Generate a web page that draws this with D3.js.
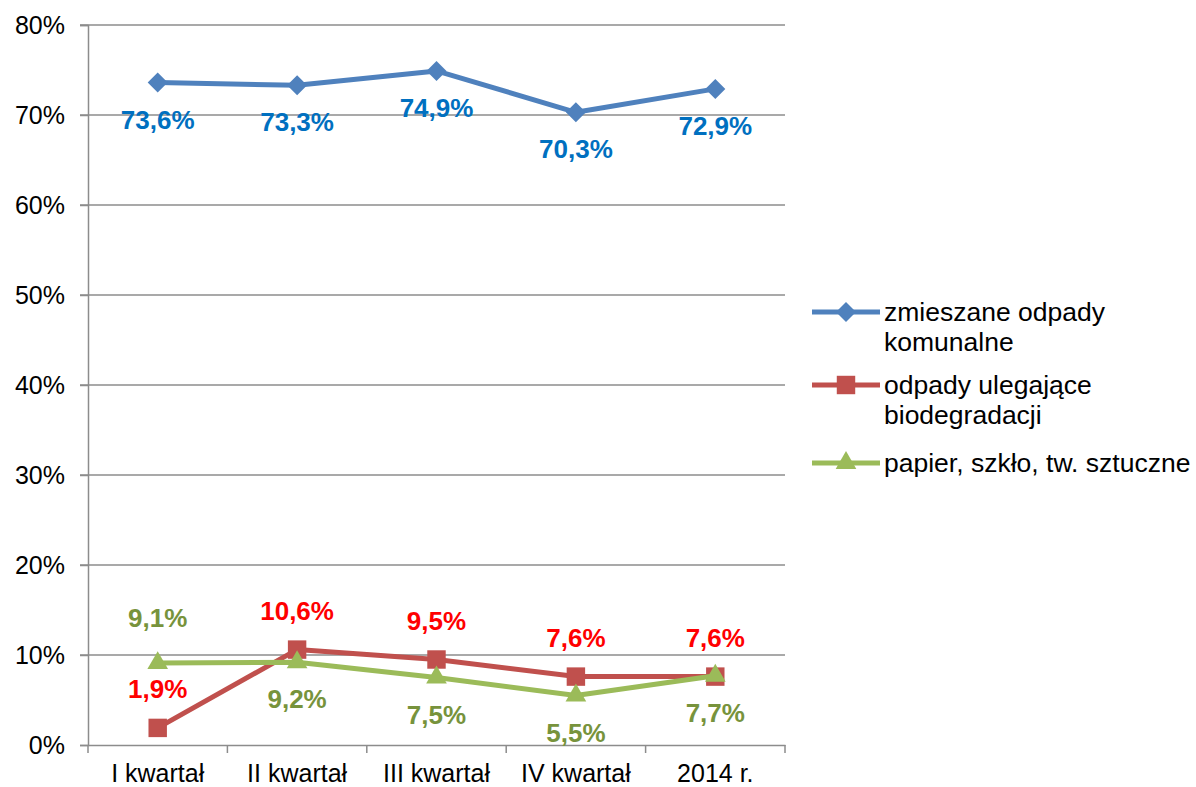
<!DOCTYPE html>
<html><head><meta charset="utf-8">
<script src="https://cdn.jsdelivr.net/npm/d3@7"></script>
<style>body{margin:0;background:#fff}text{font-family:"Liberation Sans",Arial,sans-serif}</style>
</head><body><svg id="c" width="1196" height="787"></svg>
<script>
const categories = ["I kwartał","II kwartał","III kwartał","IV kwartał","2014 r."];
const seriesNames = [["zmieszane odpady","komunalne"],["odpady ulegające","biodegradacji"],["papier, szkło, tw. sztuczne"]];
const mixed = [73.6,73.3,74.9,70.3,72.9];
const bio = [1.9,10.6,9.5,7.6,7.6];
const paper = [9.1,9.2,7.5,5.5,7.7];
const yTicks = [0,10,20,30,40,50,60,70,80];
const labelPos = [["below","below","below","below","below"],["above","above","above","above","above"],["above","below","below","below","below"]];

const svg = d3.select("#c");
const L=88,R=785,T=25,B=745;
const x = d3.scaleBand().domain(categories).range([L,R]);
const y = d3.scaleLinear().domain([0,80]).range([B,T]);
const fmt = v => v.toFixed(1).replace(".",",")+"%";
const FF = "Liberation Sans, Arial, sans-serif";

// gridlines
svg.append("g").selectAll("line").data(yTicks.filter(d=>d>0)).join("line")
 .attr("x1",L-8).attr("x2",R).attr("y1",d=>y(d)).attr("y2",d=>y(d))
 .attr("stroke","#8c8c8c").attr("stroke-width",1.5);
// y axis
const ya = svg.append("g").attr("transform",`translate(${L},0)`)
 .call(d3.axisLeft(y).tickValues(yTicks).tickSize(8).tickFormat(d=>d+"%"));
ya.select(".domain").attr("stroke","#8c8c8c").attr("stroke-width",1.5);
ya.selectAll(".tick line").attr("stroke","#8c8c8c").attr("stroke-width",1.5);
ya.selectAll(".tick text").attr("x",-23).attr("font-size",25).attr("fill","#000").attr("font-family",FF);
// x axis
const xa = svg.append("g").attr("transform",`translate(0,${B})`)
 .call(d3.axisBottom(x).tickSize(0).tickSizeOuter(0));
xa.select(".domain").attr("stroke","#8c8c8c").attr("stroke-width",1.5);
xa.selectAll(".tick text").attr("dy","0.35em").attr("y",28).attr("font-size",25).attr("fill","#000").attr("font-family",FF);
const bounds = categories.map(c=>x(c)).concat([R]);
svg.append("g").selectAll("line").data(bounds).join("line")
 .attr("x1",d=>d).attr("x2",d=>d).attr("y1",B).attr("y2",B+8).attr("stroke","#8c8c8c").attr("stroke-width",1.5);

const cx = c => x(c)+x.bandwidth()/2;
const series = [
 {vals:mixed,color:"#4F81BD",lab:"#0070C0",shape:d3.symbolSquare,size:200,rot:45},
 {vals:bio,color:"#C0504D",lab:"#FF0000",shape:d3.symbolSquare,size:340,rot:0},
 {vals:paper,color:"#9BBB59",lab:"#77933C",shape:d3.symbolTriangle,size:185,rot:0}
];
const line = d3.line().x((d,i)=>cx(categories[i])).y(d=>y(d));
series.forEach((s,si)=>{
 const g = svg.append("g");
 g.append("path").attr("d",line(s.vals)).attr("fill","none").attr("stroke",s.color).attr("stroke-width",5).attr("stroke-linejoin","round");
 g.selectAll("path.m").data(s.vals).join("path").attr("class","m")
  .attr("d",d3.symbol().type(s.shape).size(s.size))
  .attr("transform",(d,i)=>`translate(${cx(categories[i])},${y(d)}) rotate(${s.rot})`).attr("fill",s.color);
});
series.forEach((s,si)=>{
 svg.append("g").selectAll("text").data(s.vals).join("text")
  .attr("x",(d,i)=>cx(categories[i]))
  .attr("y",(d,i)=>y(d)+(labelPos[si][i]==="below"?37:(si===2?-45:-39)))
  .attr("dy","0.35em").attr("text-anchor","middle").attr("font-size",26).attr("font-weight","bold")
  .attr("fill",s.lab).text(fmt);
});
// legend
const legY=[312,385,463];
series.forEach((s,si)=>{
 const g=svg.append("g").attr("transform",`translate(0,${legY[si]})`);
 g.append("line").attr("x1",812).attr("x2",880).attr("y1",0).attr("y2",0).attr("stroke",s.color).attr("stroke-width",5);
 g.append("path").attr("d",d3.symbol().type(s.shape).size(s.size)).attr("transform",`translate(846,0) rotate(${s.rot})`).attr("fill",s.color);
 g.selectAll("text").data(seriesNames[si]).join("text").attr("x",884).attr("y",(d,i)=>i*30).attr("dy","0.35em")
  .attr("font-size",26.5).attr("fill","#000").text(d=>d);
});
</script></body></html>
